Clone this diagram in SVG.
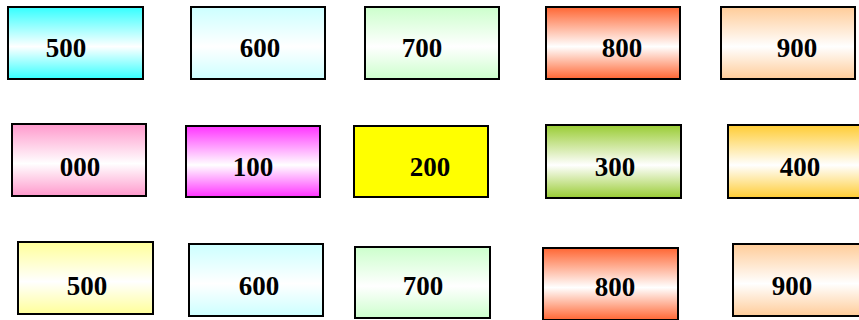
<svg xmlns="http://www.w3.org/2000/svg" width="859" height="320" viewBox="0 0 859 320">
<defs>
<linearGradient id="gCyan" x1="0" y1="0" x2="0" y2="1"><stop offset="0" stop-color="#33FFFF"/><stop offset="0.55" stop-color="#FFFFFF"/><stop offset="1" stop-color="#33FFFF"/></linearGradient>
<linearGradient id="gLCyan" x1="0" y1="0" x2="0" y2="1"><stop offset="0" stop-color="#CCFFFF"/><stop offset="0.55" stop-color="#FFFFFF"/><stop offset="1" stop-color="#CCFFFF"/></linearGradient>
<linearGradient id="gLGreen" x1="0" y1="0" x2="0" y2="1"><stop offset="0" stop-color="#CCFFCC"/><stop offset="0.55" stop-color="#FFFFFF"/><stop offset="1" stop-color="#CCFFCC"/></linearGradient>
<linearGradient id="gOrange" x1="0" y1="0" x2="0" y2="1"><stop offset="0" stop-color="#FF6633"/><stop offset="0.55" stop-color="#FFFFFF"/><stop offset="1" stop-color="#FF6633"/></linearGradient>
<linearGradient id="gPeach" x1="0" y1="0" x2="0" y2="1"><stop offset="0" stop-color="#FFCC99"/><stop offset="0.55" stop-color="#FFFFFF"/><stop offset="1" stop-color="#FFCC99"/></linearGradient>
<linearGradient id="gPink" x1="0" y1="0" x2="0" y2="1"><stop offset="0" stop-color="#FF99CC"/><stop offset="0.55" stop-color="#FFFFFF"/><stop offset="1" stop-color="#FF99CC"/></linearGradient>
<linearGradient id="gMagenta" x1="0" y1="0" x2="0" y2="1"><stop offset="0" stop-color="#FF33FF"/><stop offset="0.55" stop-color="#FFFFFF"/><stop offset="1" stop-color="#FF33FF"/></linearGradient>
<linearGradient id="gGreen" x1="0" y1="0" x2="0" y2="1"><stop offset="0" stop-color="#99CC33"/><stop offset="0.55" stop-color="#FFFFFF"/><stop offset="1" stop-color="#99CC33"/></linearGradient>
<linearGradient id="gGold" x1="0" y1="0" x2="0" y2="1"><stop offset="0" stop-color="#FFCC33"/><stop offset="0.55" stop-color="#FFFFFF"/><stop offset="1" stop-color="#FFCC33"/></linearGradient>
<linearGradient id="gLYellow" x1="0" y1="0" x2="0" y2="1"><stop offset="0" stop-color="#FFFF99"/><stop offset="0.55" stop-color="#FFFFFF"/><stop offset="1" stop-color="#FFFF99"/></linearGradient>
</defs>
<style>
rect.box{stroke:#000;stroke-width:2}
text{font-family:"Liberation Serif","Times New Roman",serif;font-weight:bold;font-size:27px;fill:#000;text-anchor:middle}
</style>
<rect width="859" height="320" fill="#FFFFFF"/>
<g id="n1"><rect class="box" x="8" y="7" width="135" height="72" fill="url(#gCyan)"/><text x="66" y="57">500</text></g>
<g id="n2"><rect class="box" x="191" y="7" width="134" height="72" fill="url(#gLCyan)"/><text x="260" y="57">600</text></g>
<g id="n3"><rect class="box" x="365" y="7" width="134" height="72" fill="url(#gLGreen)"/><text x="422" y="57">700</text></g>
<g id="n4"><rect class="box" x="546" y="7" width="134" height="72" fill="url(#gOrange)"/><text x="622" y="57">800</text></g>
<g id="n5"><rect class="box" x="721" y="7" width="134" height="72" fill="url(#gPeach)"/><text x="797" y="57">900</text></g>
<g id="n6"><rect class="box" x="12" y="124" width="134" height="72" fill="url(#gPink)"/><text x="80" y="176">000</text></g>
<g id="n7"><rect class="box" x="186" y="126" width="134" height="71" fill="url(#gMagenta)"/><text x="253" y="176">100</text></g>
<g id="n8"><rect class="box" x="354" y="126" width="134" height="71" fill="#FFFF00"/><text x="430" y="176">200</text></g>
<g id="n9"><rect class="box" x="546" y="125" width="135" height="73" fill="url(#gGreen)"/><text x="615" y="176">300</text></g>
<g id="n10"><rect class="box" x="728" y="125" width="134" height="73" fill="url(#gGold)"/><text x="800" y="176">400</text></g>
<g id="n11"><rect class="box" x="18" y="242" width="135" height="72" fill="url(#gLYellow)"/><text x="87" y="295">500</text></g>
<g id="n12"><rect class="box" x="189" y="244" width="134" height="72" fill="url(#gLCyan)"/><text x="259" y="295">600</text></g>
<g id="n13"><rect class="box" x="355" y="247" width="135" height="71" fill="url(#gLGreen)"/><text x="423" y="295">700</text></g>
<g id="n14"><rect class="box" x="543" y="248" width="135" height="72" fill="url(#gOrange)"/><text x="615" y="296">800</text></g>
<g id="n15"><rect class="box" x="733" y="244" width="134" height="72" fill="url(#gPeach)"/><text x="792" y="295">900</text></g>
<g id="connectors"></g>
</svg>
